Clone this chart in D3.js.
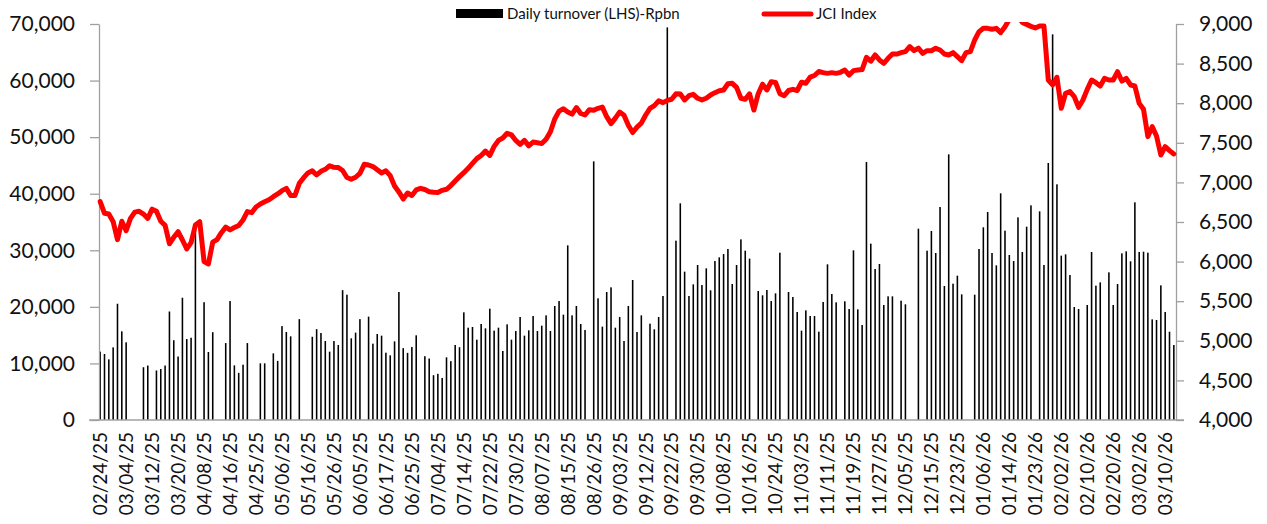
<!DOCTYPE html>
<html>
<head>
<meta charset="utf-8">
<script src="https://cdn.jsdelivr.net/npm/d3@7"></script>
<style>
  html, body { margin: 0; padding: 0; background: #fff; }
  svg { display: block; font-family: Lato, "Open Sans", sans-serif; }
  .axis path, .axis line { stroke: #a0a0a0; stroke-width: 1.3; }
  .axis text { fill: #111; }
</style>
</head>
<body>
<div id="chart"></div>
<script>
// Daily turnover (Rp bn, left axis) as thin bars, JCI index (right axis) as red line.
// One entry per trading day, 02/24/25 .. 03/12/26; null = no turnover print that day.

const turnover = [
  12080, 11670, 10720, 12840, 20550, 15670, 13730, null, null, null,
  9330, 9630, null, 8750, 9010, 9630, 19180, 14100, 11220, 21610,
  14310, 14540, 34160, null, 20820, 12020, 15520, null, null, 13600,
  21030, 9660, 8330, 9780, 13600, null, null, 10020, 10020, null,
  11780, 10450, 16600, 15560, 14790, null, 17830, null, null, 14710,
  16060, 15380, 13960, 12080, 13960, 13260, 22950, 22150, 14440, 15440,
  17830, null, 18270, 13490, 15200, 14910, 11900, 11430, 13900, 22630,
  12700, 11870, 12900, 14970, null, 11280, 10870, 7920, 8160, 7420,
  11080, 10400, 13260, 12870, 19030, 16320, 16440, 14200, 16970, 16200,
  19680, 15790, 16320, 12200, 16910, 14200, 15730, 18210, 14910, 15850,
  18380, 15730, 16670, 18500, 15730, 20150, 21030, 18620, 30870, 18500,
  20150, 16970, 15910, null, 45720, 21510, 16500, 22630, 23450, 16320,
  18210, 13960, 20150, 24750, 15560, 18500, null, 17030, 16030, 18210,
  21920, 69400, null, 31700, 38300, 26220, 21920, 23980, 27400, 23860,
  26810, 22920, 28100, 28750, 29340, 30230, 24040, 27400, 31930, 29930,
  28520, null, 22800, 22040, 22980, 21030, 22390, 29580, null, 22630,
  21740, 19090, 15790, 19380, 18380, 18380, 15610, 20860, 27520, 22270,
  20800, null, 20980, 19620, 29990, 19560, 16790, 45600, 31170, 26690,
  27580, 20330, 21860, 21860, null, 21090, 20450, null, null, 33820,
  null, 29930, 33410, 29520, 37650, 23690, 46960, 24100, 25510, 22210,
  null, null, 22150, 30230, 34060, 36770, 29520, 27340, 40070, 33470,
  29170, 28100, 35820, 29700, 34170, 37940, null, 36880, 27400, 45430,
  68170, 41660, 29050, 29280, 25630, 19970, 19620, null, 20330, 29700,
  23750, 24330, null, 26100, 20330, 24040, 29460, 29810, 28050, 38480,
  29700, 29750, 29580, 17790, 17680, 23800, 19090, 15610, 13260
];

const jci = [
  6757, 6610, 6600, 6504, 6278, 6510, 6390, 6546, 6625, 6635,
  6600, 6546, 6662, 6635, 6510, 6458, 6225, 6307, 6378, 6273,
  6160, 6240, 6462, 6504, 6000, 5970, 6245, 6277, 6365, 6435,
  6400, 6430, 6455, 6525, 6631, 6618, 6690, 6727, 6755, 6780,
  6820, 6855, 6896, 6925, 6835, 6836, 6988, 7060, 7120, 7146,
  7094, 7140, 7165, 7210, 7190, 7188, 7150, 7062, 7040, 7065,
  7115, 7228, 7220, 7200, 7160, 7118, 7146, 7085, 6955, 6880,
  6790, 6866, 6835, 6905, 6925, 6910, 6883, 6875, 6872, 6900,
  6913, 6960, 7018, 7073, 7123, 7178, 7240, 7300, 7340, 7395,
  7340, 7455, 7530, 7560, 7620, 7600, 7530, 7480, 7530, 7462,
  7510, 7500, 7490, 7545, 7640, 7800, 7900, 7930, 7890, 7862,
  7945, 7870, 7851, 7918, 7910, 7935, 7950, 7830, 7742, 7812,
  7888, 7848, 7722, 7630, 7698, 7748, 7851, 7935, 7970, 8030,
  8007, 8035, 8050, 8118, 8116, 8041, 8095, 8112, 8062, 8041,
  8062, 8104, 8133, 8158, 8167, 8245, 8251, 8200, 8062, 8049,
  8118, 7914, 8120, 8240, 8167, 8272, 8262, 8120, 8095, 8160,
  8175, 8160, 8265, 8252, 8330, 8350, 8400, 8386, 8377, 8386,
  8377, 8390, 8419, 8356, 8411, 8419, 8425, 8579, 8530, 8609,
  8546, 8504, 8567, 8621, 8621, 8638, 8651, 8714, 8663, 8695,
  8630, 8663, 8663, 8693, 8672, 8621, 8609, 8638, 8588, 8537,
  8638, 8651, 8798, 8903, 8945, 8945, 8933, 8945, 8891, 8966,
  9060, 9120, 9100, 9020, 8995, 8970, 8950, 8975, 8975, 8293,
  8230, 8327, 7935, 8125, 8146, 8083, 7948, 8041, 8175, 8293,
  8259, 8217, 8314, 8293, 8293, 8398, 8280, 8314, 8230, 8217,
  7998, 7923, 7578, 7704, 7586, 7346, 7451, 7401, 7359
];

// x labels shown on every 6th trading day
const tickEvery = 6;
const tickLabels = [
  '02/24/25', '03/04/25', '03/12/25', '03/20/25', '04/08/25', '04/16/25', '04/25/25',
  '05/06/25', '05/16/25', '05/26/25', '06/05/25', '06/17/25', '06/25/25', '07/04/25',
  '07/14/25', '07/22/25', '07/30/25', '08/07/25', '08/15/25', '08/26/25', '09/03/25',
  '09/12/25', '09/22/25', '09/30/25', '10/08/25', '10/16/25', '10/24/25', '11/03/25',
  '11/11/25', '11/19/25', '11/27/25', '12/05/25', '12/15/25', '12/23/25', '01/06/26',
  '01/14/26', '01/23/26', '02/02/26', '02/10/26', '02/20/26', '03/02/26', '03/10/26'
];

const leftTicks = d3.range(0, 70001, 10000);
const rightTicks = d3.range(4000, 9001, 500);

const legendItems = [
  { label: 'Daily turnover (LHS)-Rpbn', type: 'bar' },
  { label: 'JCI Index', type: 'line' }
];

const width = 1267;
const height = 524;
const plot = { left: 98, right: 1176, top: 24, bottom: 420 };

const svg = d3.select('#chart')
  .append('svg')
  .attr('width', width)
  .attr('height', height);

const idx = d3.range(turnover.length);

const x = d3.scaleBand()
  .domain(idx)
  .range([plot.left, plot.right])
  .paddingInner(0.64)
  .paddingOuter(0.32);

const yL = d3.scaleLinear().domain([0, 70000]).range([plot.bottom, plot.top]);
const yR = d3.scaleLinear().domain([4000, 9000]).range([plot.bottom, plot.top]);

const cx = i => x(i) + x.bandwidth() / 2;

// Clip to the plot area (the index runs above 9,000 in January)
svg.append('defs').append('clipPath')
  .attr('id', 'plot-clip')
  .append('rect')
  .attr('x', plot.left - 4)
  .attr('y', plot.top - 2)
  .attr('width', plot.right - plot.left + 8)
  .attr('height', plot.bottom - plot.top + 2);

// ─── Turnover bars ───
svg.append('g')
  .selectAll('rect')
  .data(idx.filter(i => turnover[i] != null))
  .join('rect')
  .attr('x', i => x(i))
  .attr('y', i => yL(turnover[i]))
  .attr('width', x.bandwidth())
  .attr('height', i => yL(0) - yL(turnover[i]))
  .attr('fill', '#000');

// ─── Axes ───
const fmt = d3.format(',');

const gx = svg.append('g')
  .attr('class', 'axis')
  .attr('transform', `translate(0,${plot.bottom})`)
  .call(d3.axisBottom(x)
    .tickValues(idx.filter(i => i % tickEvery === 0))
    .tickFormat(i => tickLabels[i / tickEvery])
    .tickSize(0)
    .tickSizeOuter(0));

gx.select('.domain').attr('d', `M${plot.left - 9},0H${plot.right + 8}`);

gx.selectAll('text')
  .attr('font-size', 19)
  .attr('font-family', 'Lato, sans-serif')
  .attr('text-anchor', 'end')
  .attr('transform', 'translate(0,12) rotate(-90)')
  .attr('x', 0)
  .attr('y', 0)
  .attr('dy', '0.36em');

const gl = svg.append('g')
  .attr('class', 'axis')
  .attr('transform', `translate(${plot.left + 1},0)`)
  .call(d3.axisLeft(yL).tickValues(leftTicks).tickFormat(fmt).tickSize(9).tickPadding(15).tickSizeOuter(0));

gl.selectAll('text').attr('font-size', 21).attr('font-family', 'Lato, sans-serif');

const gr = svg.append('g')
  .attr('class', 'axis')
  .attr('transform', `translate(${plot.right},0)`)
  .call(d3.axisRight(yR).tickValues(rightTicks).tickFormat(fmt).tickSize(8).tickPadding(15).tickSizeOuter(0));

gr.selectAll('text').attr('font-size', 21).attr('font-family', 'Lato, sans-serif');

// ─── JCI line ───
const line = d3.line()
  .defined(d => d != null)
  .x((d, i) => cx(i))
  .y(d => yR(d));

svg.append('path')
  .datum(jci)
  .attr('clip-path', 'url(#plot-clip)')
  .attr('fill', 'none')
  .attr('stroke', '#ff0000')
  .attr('stroke-width', 5)
  .attr('stroke-linejoin', 'round')
  .attr('stroke-linecap', 'round')
  .attr('d', line);

// ─── Legend ───
const legendPos = [456, 763];
const legend = svg.append('g').attr('font-family', 'Lato, sans-serif').attr('font-size', 15);

legendItems.forEach((item, k) => {
  const g = legend.append('g').attr('transform', `translate(${legendPos[k]},14)`);
  if (item.type === 'bar') {
    g.append('rect').attr('x', 0).attr('y', -5).attr('width', 47).attr('height', 9).attr('fill', '#000');
    g.append('text').attr('x', 51).attr('dy', '0.35em').attr('fill', '#111').text(item.label);
  } else {
    g.append('line').attr('x1', 1).attr('x2', 48).attr('y1', 0).attr('y2', 0)
      .attr('stroke', '#ff0000').attr('stroke-width', 5).attr('stroke-linecap', 'round');
    g.append('text').attr('x', 53).attr('dy', '0.35em').attr('fill', '#111').text(item.label);
  }
});
</script>
</body>
</html>
